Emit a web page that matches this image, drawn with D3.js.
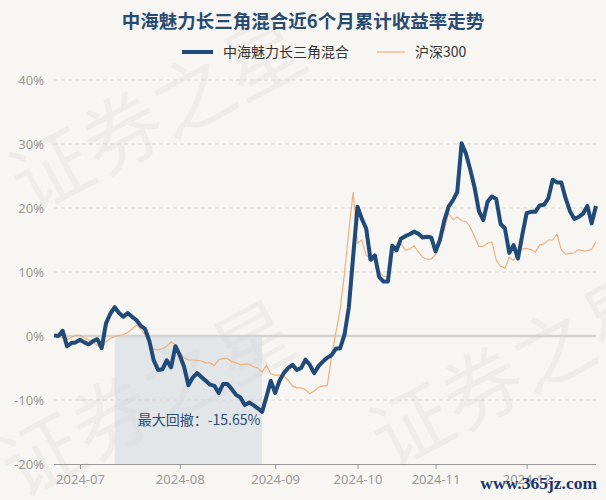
<!DOCTYPE html>
<html><head><meta charset="utf-8">
<script src="https://cdn.jsdelivr.net/npm/d3@7"></script>
<style>
html,body{margin:0;padding:0;background:#f8f6f2;}
svg{display:block;font-family:"Noto Sans CJK SC","Noto Sans",sans-serif;}
</style></head>
<body><svg id="c" width="606" height="500"></svg>
<script>
// trading days per month (categories)
const tradingDays = [
  ["2024-06", [21,24,25,26,27,28]],
  ["2024-07", [1,2,3,4,5,8,9,10,11,12,15,16,17,18,19,22,23,24,25,26,29,30,31]],
  ["2024-08", [1,2,5,6,7,8,9,12,13,14,15,16,19,20,21,22,23,26,27,28,29,30]],
  ["2024-09", [2,3,4,5,6,9,10,11,12,13,18,19,20,23,24,25,26,27,30]],
  ["2024-10", [8,9,10,11,14,15,16,17,18,21,22,23,24,25,28,29,30,31]],
  ["2024-11", [1,4,5,6,7,8,11,12,13,14,15,18,19,20,21,22,25,26,27,28,29]],
  ["2024-12", [2,3,4,5,6,9,10,11,12,13,16,17,18,19,20,23,24]]
];
const tickMonths = ["2024-07","2024-08","2024-09","2024-10","2024-11","2024-12"];
const yTicks = [-20,-10,0,10,20,30,40];

// cumulative return, %
const fund = [
  0.1,0.0,0.8,-1.6,-1.1,-1.0,-0.6,-1.0,-1.3,-0.8,
  -0.5,-1.9,2.0,3.5,4.5,3.6,3.0,3.6,3.0,2.5,
  1.6,1.1,-0.8,-3.8,-5.3,-5.2,-3.8,-4.9,-1.6,-3.0,
  -4.8,-7.7,-6.5,-5.8,-6.4,-7.0,-7.6,-7.8,-8.9,-7.5,
  -7.5,-8.3,-9.2,-9.6,-10.8,-10.4,-10.8,-11.3,-11.85,-9.5,
  -7.0,-8.9,-7.0,-5.8,-5.0,-4.5,-5.3,-5.0,-3.7,-4.5,
  -5.8,-4.7,-4.0,-3.4,-3.0,-2.0,-1.9,0.2,4.5,12.5,
  20.2,18.3,16.8,11.9,12.6,9.2,8.5,8.5,14.1,13.4,
  15.2,15.6,15.9,16.3,16.0,15.4,15.5,15.4,13.2,15.0,
  18.0,20.2,21.2,22.5,30.1,28.5,26.0,23.2,19.5,18.1,
  21.0,21.8,21.4,17.5,16.8,13.0,14.2,12.1,15.8,19.2,
  19.4,19.4,20.4,20.5,21.5,24.4,24.0,24.0,21.5,19.5,
  18.3,18.6,19.1,20.3,17.6,20.3
];
const hs300 = [
  0.0,0.0,-0.3,-0.6,-0.2,0.1,0.1,-0.3,-0.6,-1.0,
  -1.5,-1.9,-0.9,-0.4,-0.1,0.1,0.2,0.6,1.1,1.7,
  1.1,0.2,-1.2,-2.0,-2.2,-2.0,-1.6,-0.9,-1.4,-2.5,
  -3.4,-3.75,-3.75,-3.8,-3.9,-4.2,-4.2,-4.6,-3.7,-3.5,
  -3.5,-4.0,-4.2,-4.5,-4.4,-4.4,-4.8,-5.0,-5.6,-4.6,
  -5.9,-6.1,-6.1,-6.3,-6.9,-7.8,-8.1,-8.1,-8.4,-9.0,
  -8.6,-8.0,-7.8,-7.8,-3.3,0.5,4.2,9.8,16.5,22.5,
  14.5,15.0,12.6,12.2,11.6,10.0,9.3,9.3,13.0,13.2,
  14.5,13.4,13.6,14.1,13.2,12.3,12.0,12.0,12.8,14.8,
  16.5,19.2,18.2,18.6,18.0,17.9,17.0,15.5,14.0,14.0,
  14.5,14.7,11.8,10.9,10.6,12.3,11.8,13.0,13.6,13.7,
  13.5,13.1,14.2,14.4,15.0,15.0,15.9,13.5,12.8,12.9,
  13.0,13.5,13.3,13.3,13.6,14.7
];
const seriesNames = ["中海魅力长三角混合","沪深300"];
const titleText = "中海魅力长三角混合近6个月累计收益率走势";
const drawdownLabel = "最大回撤：-15.65%";
const drawdownStart = "2024-07-11", drawdownEnd = "2024-08-28";

const dates = [];
tradingDays.forEach(([m, ds]) => ds.forEach(d => dates.push(m + "-" + String(d).padStart(2,"0"))));

const svg = d3.select("#c");
const L = 54, R = 596, T = 80, B = 464;
const x = d3.scalePoint().domain(dates).range([L, R]);
const y = d3.scaleLinear().domain([-20, 40]).range([B, T]);

// background
svg.append("rect").attr("width",606).attr("height",500).attr("fill","#f8f6f2");

// watermarks
const wm = svg.append("g").attr("fill","#000").attr("fill-opacity",0.035)
  .attr("font-size",80).attr("font-family","Noto Sans CJK SC");
[[30,215],[20,500],[390,470]].forEach(([px,py]) => {
  wm.append("text").attr("transform",`translate(${px},${py}) rotate(-28)`).text("证券之星");
});

// grid
yTicks.forEach(t => {
  if (t === -20) return;
  svg.append("line").attr("x1",L).attr("x2",R).attr("y1",y(t)).attr("y2",y(t))
    .attr("stroke", t===0 ? "#d6d3cf" : "#d9d9d9")
    .attr("stroke-width", t===0 ? 2.5 : 1)
    .attr("stroke-dasharray", t===0 ? null : "4,3");
});

// drawdown box
svg.append("rect")
  .attr("x", x(drawdownStart)).attr("y", y(0))
  .attr("width", x(drawdownEnd) - x(drawdownStart)).attr("height", y(-20) - y(0))
  .attr("fill", "#c9d3dc").attr("fill-opacity", 0.45);

// y axis labels
svg.append("g").attr("transform",`translate(${L},0)`)
  .call(d3.axisLeft(y).tickValues(yTicks).tickSize(0).tickPadding(10).tickFormat(d => d + "%"))
  .call(g => g.select(".domain").remove())
  .call(g => g.selectAll("text").attr("fill","#999").attr("font-size",13)
    .attr("font-family","Noto Sans, sans-serif"));

// x axis
const tickDates = tickMonths.map(m => dates.find(d => d.startsWith(m)));
svg.append("g").attr("transform",`translate(0,${B})`)
  .call(d3.axisBottom(x).tickValues(tickDates).tickSize(5).tickPadding(6)
    .tickFormat(d => d.slice(0,7)))
  .call(g => g.select(".domain").attr("d",`M${L},0.5H${R}`).attr("stroke","#999"))
  .call(g => g.selectAll(".tick line").attr("stroke","#999"))
  .call(g => g.selectAll("text").attr("fill","#999").attr("font-size",13)
    .attr("font-family","Noto Sans, sans-serif"));

// lines
const line = d3.line().x((d,i) => x(dates[i])).y(d => y(d));
svg.append("path").datum(hs300).attr("d", line).attr("fill","none")
  .attr("stroke","#f0b07c").attr("stroke-width",1.2);
svg.append("path").datum(fund).attr("d", line).attr("fill","none")
  .attr("stroke","#1f4a7a").attr("stroke-width",4).attr("stroke-linejoin","round");

// drawdown label
svg.append("text").attr("x", x(drawdownStart) + 23).attr("y", 425)
  .attr("fill","#2d4e73").attr("font-size",14).text(drawdownLabel);

// title
svg.append("text").attr("x",303).attr("y",28).attr("text-anchor","middle")
  .attr("fill","#274b73").attr("font-size",18.5).attr("font-weight","bold").text(titleText);

// legend
svg.append("line").attr("x1",182).attr("x2",213).attr("y1",52).attr("y2",52)
  .attr("stroke","#1f4a7a").attr("stroke-width",4);
svg.append("text").attr("x",223).attr("y",57).attr("fill","#333").attr("font-size",14).text(seriesNames[0]);
svg.append("line").attr("x1",377).attr("x2",405).attr("y1",52).attr("y2",52)
  .attr("stroke","#f0b07c").attr("stroke-width",1.2);
svg.append("text").attr("x",415).attr("y",57).attr("fill","#333").attr("font-size",14).text(seriesNames[1]);

// site watermark
svg.append("text").attr("x",597).attr("y",489).attr("text-anchor","end")
  .attr("fill","#1a3470").attr("font-size",17.5).attr("font-weight","bold")
  .attr("font-family","Liberation Serif, serif").text("www.365jz.com");
</script></body></html>
